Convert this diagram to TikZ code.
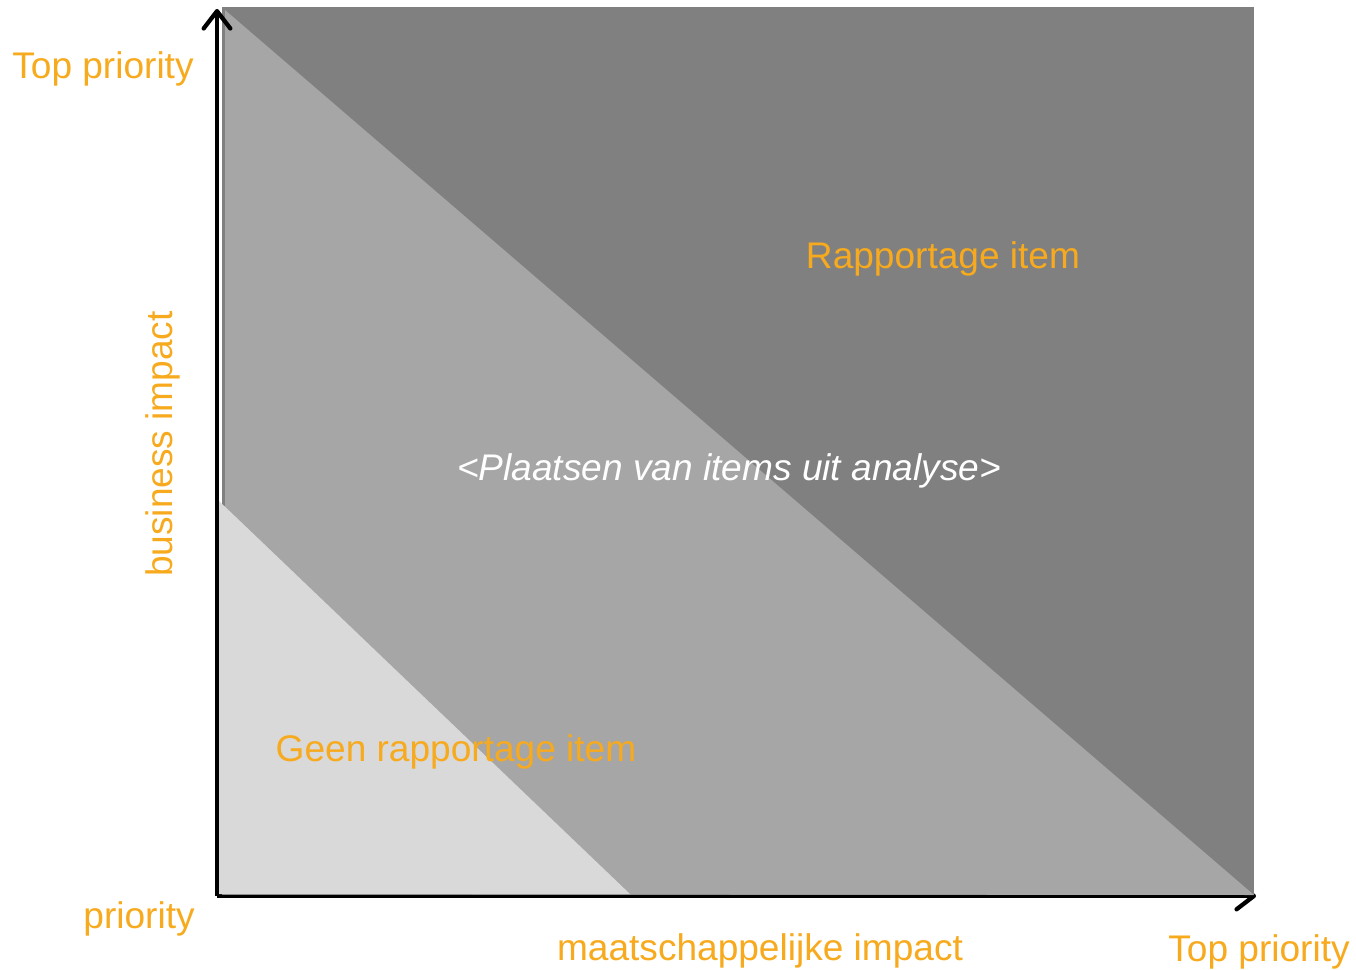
\documentclass[tikz,border=0pt]{standalone}
\usepackage{fontspec}
\setmainfont{Liberation Sans}
\usetikzlibrary{arrows.meta}
\definecolor{prio}{RGB}{247,170,30}
\definecolor{darkzone}{RGB}{128,128,128}
\definecolor{midzone}{RGB}{166,166,166}
\definecolor{lightzone}{RGB}{217,217,217}

\begin{document}
\begin{tikzpicture}
                \tikzset{x=0.75pt, y=-0.75pt}
                \tikzstyle{lbl}=[inner sep=0pt, text=prio, font=\fontsize{27.8}{33}\selectfont]
                \tikzstyle{note}=[inner sep=0pt, text=white, font=\fontsize{27.8}{33}\selectfont\itshape]
                \tikzstyle{axis}=[line width=3.2pt, -{Straight Barb[length=13pt, width=20pt, line width=3.2pt, round]}]

                \useasboundingbox (0,0) rectangle (1356,970);

                % axes
                \coordinate (origin)  at (217,896);
                \coordinate (ytop)    at (217,9);
                \coordinate (xend)    at (1256,896);
                \draw [axis]          (origin) -- (xend);

                % zones
                \fill [darkzone]      (222,7) rectangle (1254,895);
                \fill [midzone]       (225,10) -- (1254,895) -- (225,894) -- cycle;
                \fill [lightzone]     (218,500) -- (630,894) -- (218,894) -- cycle;

                \draw [axis]          (origin) -- (ytop);

                % axis labels
                \draw (103,69)      node[lbl]   (ytoplbl)   {Top priority};
                \draw (139,919)     node[lbl]   (ylowlbl)   {priority};
                \draw (163,444)     node[lbl, rotate=90]    (ylbl)  {business impact};
                \draw (760,951)     node[lbl]   (xlbl)      {maatschappelijke impact};
                \draw (1259,952)    node[lbl]   (xtoplbl)   {Top priority};

                % zone labels
                \draw (943,259)     node[lbl]   (report)    {Rapportage item};
                \draw (729,471)     node[note]  (place)     {<Plaatsen van items uit analyse>};
                \draw (456,752)     node[lbl]   (noreport)  {Geen rapportage item};
            \end{tikzpicture}
\end{document}
